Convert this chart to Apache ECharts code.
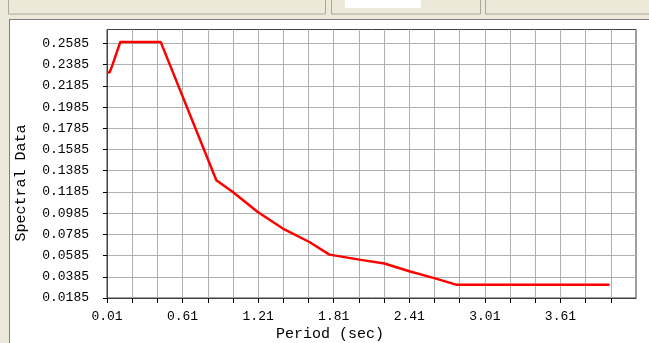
<!DOCTYPE html>
<html>
<head>
<meta charset="utf-8">
<script src="https://cdn.jsdelivr.net/npm/echarts@6/dist/echarts.min.js"></script>
<style>
html,body{margin:0;padding:0;background:#fff;}
#c{width:649px;height:343px;}
</style>
</head>
<body>
<div id="c"></div>
<script>
// Data
var periods = [0.01, 0.031, 0.053, 0.116, 0.436, 0.878, 1.009, 1.207, 1.406, 1.617, 1.776, 2.014, 2.212, 2.41, 2.622, 2.781, 4.0];
var spectral = [0.2310, 0.2314, 0.2381, 0.2600, 0.2600, 0.1295, 0.1185, 0.0996, 0.0840, 0.0713, 0.0594, 0.0547, 0.0510, 0.0437, 0.0368, 0.0311, 0.0311];
var yTickLabels = ['0.0185','0.0385','0.0585','0.0785','0.0985','0.1185','0.1385','0.1585','0.1785','0.1985','0.2185','0.2385','0.2585'];
var xTickLabels = ['0.01','0.61','1.21','1.81','2.41','3.01','3.61'];
var xMinorTicks = [0.01,0.21,0.41,0.61,0.81,1.01,1.21,1.41,1.61,1.81,2.01,2.21,2.41,2.61,2.81,3.01,3.21,3.41,3.61,3.81,4.01];
var xTitle = 'Period (sec)';
var yTitle = 'Spectral Data';

var yTickValues = yTickLabels.map(Number);
var xTickValues = xTickLabels.map(Number);
var pts = periods.map(function(p, i){ return [p, spectral[i]]; });

var font = 'Liberation Mono, Courier New, monospace';
var beige = '#ECE9D8';
var chart = echarts.init(document.getElementById('c'), null, {renderer:'canvas'});
chart.setOption({
  animation: false,
  backgroundColor: '#ffffff',
  graphic: [
    {type:'rect', shape:{x:0,y:0,width:649,height:19}, style:{fill:beige}, z:-10},
    {type:'rect', shape:{x:0,y:0,width:9,height:343}, style:{fill:beige}, z:-10},
    {type:'rect', shape:{x:8.5,y:-2,width:317,height:16}, style:{fill:beige, stroke:'#ACA899', lineWidth:1}, z:-9},
    {type:'rect', shape:{x:331.5,y:-2,width:149,height:16}, style:{fill:beige, stroke:'#ACA899', lineWidth:1}, z:-9},
    {type:'rect', shape:{x:345,y:-2,width:76,height:10}, style:{fill:'#ffffff'}, z:-8},
    {type:'rect', shape:{x:485.5,y:-2,width:170,height:16}, style:{fill:beige, stroke:'#ACA899', lineWidth:1}, z:-9},
    {type:'line', shape:{x1:9,y1:19.5,x2:649,y2:19.5}, style:{stroke:'#808080', lineWidth:1}, z:-7},
    {type:'line', shape:{x1:9.5,y1:19,x2:9.5,y2:343}, style:{stroke:'#808080', lineWidth:1}, z:-7},
    {type:'text', left:276, top:327, style:{text:xTitle, font:'15px ' + font, fill:'#000'}},
    {type:'text', x:14, y:183, rotation:Math.PI/2, style:{text:yTitle, font:'15px ' + font, fill:'#000', align:'center', verticalAlign:'top'}}
  ],
  grid: {left:107, top:29.5, right:13, bottom:45, show:true, borderColor:'#404040', borderWidth:1, backgroundColor:'transparent'},
  xAxis: {
    type:'value', min:0.01, max:4.21, interval:0.2,
    axisLine:{show:true, onZero:false, lineStyle:{color:'#404040', width:1}},
    axisTick:{show:true, length:5, customValues:xMinorTicks, lineStyle:{color:'#000'}},
    axisLabel:{customValues:xTickValues, margin:12, color:'#000', fontFamily:font, fontSize:13,
      formatter:function(v){ return v.toFixed(2); }},
    splitLine:{show:true, lineStyle:{color:'#B0B0B0', width:1}}
  },
  yAxis: {
    type:'value', min:0.0185, max:0.2717, interval:0.02,
    axisLine:{show:true, onZero:false, lineStyle:{color:'#404040', width:1}},
    axisTick:{show:true, length:4, customValues:yTickValues, lineStyle:{color:'#000'}},
    axisLabel:{customValues:yTickValues, margin:18, color:'#000', fontFamily:font, fontSize:13,
      formatter:function(v){ return v.toFixed(4); }},
    splitLine:{show:true, lineStyle:{color:'#B0B0B0', width:1}}
  },
  series: [{
    type:'line', data:pts, showSymbol:false, symbol:'none',
    lineStyle:{color:'#FF0000', width:2.5}, z:5
  }]
});
</script>
</body>
</html>
